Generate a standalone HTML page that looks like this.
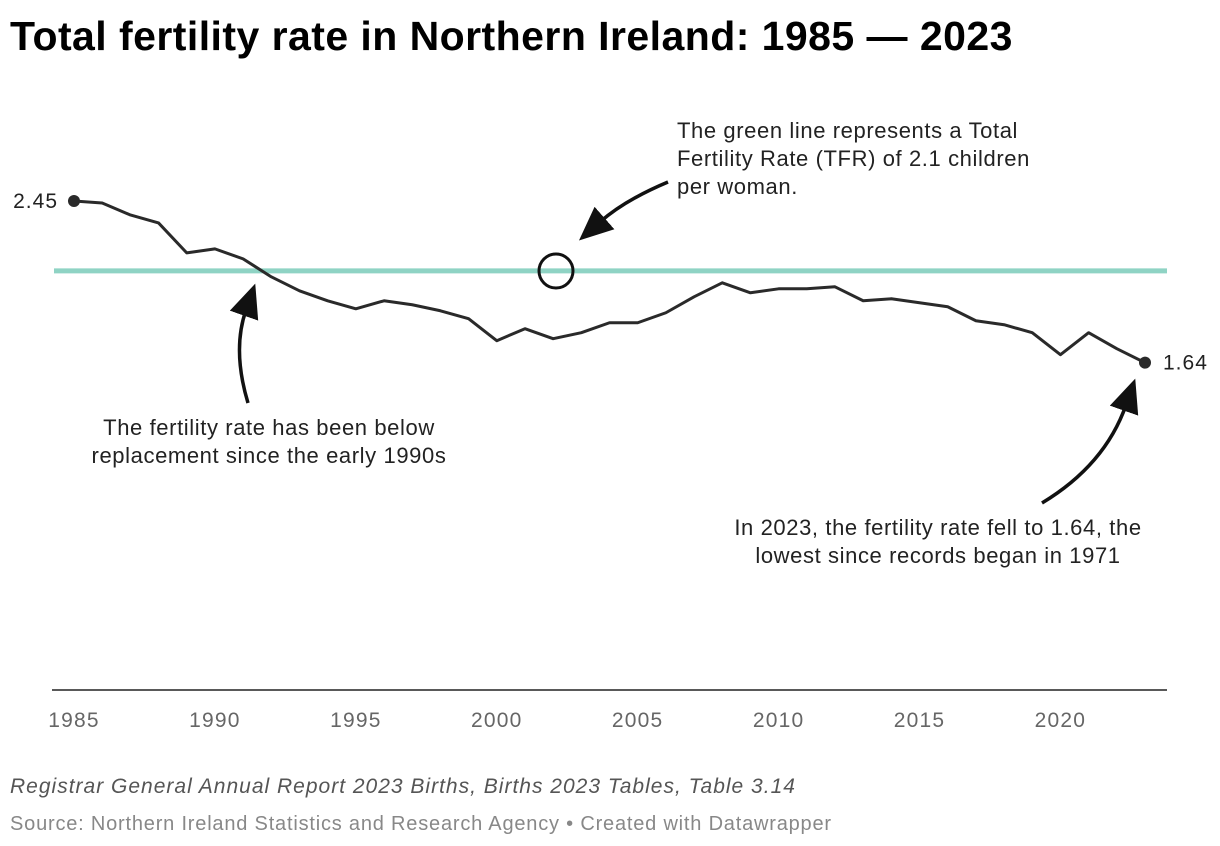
<!DOCTYPE html>
<html><head><meta charset="utf-8"><style>
body{margin:0;background:#fff;font-family:"Liberation Sans",sans-serif;}
svg{display:block}
</style></head><body>
<svg id="c" width="1220" height="846">
<defs><marker id="ah" markerWidth="34" markerHeight="30" refX="6" refY="15" orient="auto" markerUnits="userSpaceOnUse" viewBox="0 0 34 30"><path d="M0,0 L34,15 L0,30 z" fill="#111"/></marker></defs>
<text x="10" y="50" font-size="41" font-weight="bold" letter-spacing="0.45" fill="#000">Total fertility rate in Northern Ireland: 1985 — 2023</text>
<g id="plot"></g>
<text x="10" y="793" font-size="21" font-style="italic" letter-spacing="1" fill="#555">Registrar General Annual Report 2023 Births, Births 2023 Tables, Table 3.14</text>
<text x="10" y="830" font-size="20" letter-spacing="0.8" fill="#888">Source: Northern Ireland Statistics and Research Agency • Created with Datawrapper</text>
</svg>
<script>
const years=[];for(let y=1985;y<=2023;y++)years.push(y);
const tfr=[2.45,2.44,2.38,2.34,2.19,2.21,2.16,2.07,2.00,1.95,1.91,1.95,1.93,1.90,1.86,1.75,1.81,1.76,1.79,1.84,1.84,1.89,1.97,2.04,1.99,2.01,2.01,2.02,1.95,1.96,1.94,1.92,1.85,1.83,1.79,1.68,1.79,1.71,1.64];
const xTicks=[1985,1990,1995,2000,2005,2010,2015,2020];
const replacement=2.1;
const X=y=>74+(y-1985)*(1145-74)/38;
const Y=v=>690-v*199.6;
const NS="http://www.w3.org/2000/svg";
const g=document.getElementById('plot');
function mk(t,a,txt){const e=document.createElementNS(NS,t);for(const k in a)e.setAttribute(k,a[k]);if(txt!==undefined)e.textContent=txt;g.appendChild(e);return e;}
let e;
e=mk('line',{x1:52,x2:1167,y1:690,y2:690,stroke:'#222','stroke-width':1.5});


xTicks.forEach(t=>{e=mk('text',{x:X(t),y:727,'font-size':21,'letter-spacing':1.2,fill:'#666','text-anchor':'middle'},String(t));

});
e=mk('line',{x1:54,x2:1167,y1:Y(replacement),y2:Y(replacement),stroke:'#8fd3c4','stroke-width':5});


e=mk('path',{d:years.map((y,i)=>(i?'L':'M')+X(y)+','+Y(tfr[i])).join(''),fill:'none',stroke:'#2a2a2a','stroke-width':3,'stroke-linejoin':'round'});


[[0,'2.45',-16,'end'],[years.length-1,'1.64',18,'start']].forEach(([i,l,dx,a])=>{
e=mk('circle',{cx:X(years[i]),cy:Y(tfr[i]),r:6,fill:'#2a2a2a'});


e=mk('text',{x:X(years[i])+dx,y:Y(tfr[i])+7,'font-size':21,'letter-spacing':1,fill:'#222','text-anchor':a},l);

});
e=mk('circle',{cx:556,cy:271,r:17,fill:'none',stroke:'#111','stroke-width':3});


function arrow(d,n){e=mk('path',{d:d,fill:'none',stroke:'#111','stroke-width':3.5,'marker-end':'url(#ah)'});

}
arrow('M668,182 Q625,200 600,222','arrow-green-line');
arrow('M248,403 Q232,350 246,310','arrow-below-replacement');
arrow('M1042,503 Q1105,465 1126,405','arrow-2023');
function para(lines,x,y,a,n){lines.forEach((l,i)=>{e=mk('text',{x:x,y:y+i*28,'font-size':22,'letter-spacing':0.6,fill:'#222','text-anchor':a},l);

});}
para(['The green line represents a Total','Fertility Rate (TFR) of 2.1 children','per woman.'],677,138,'start','annotation-green-line');
para(['The fertility rate has been below','replacement since the early 1990s'],269,435,'middle','annotation-below-replacement');
para(['In 2023, the fertility rate fell to 1.64, the','lowest since records began in 1971'],938,535,'middle','annotation-2023');
</script>
</body></html>
